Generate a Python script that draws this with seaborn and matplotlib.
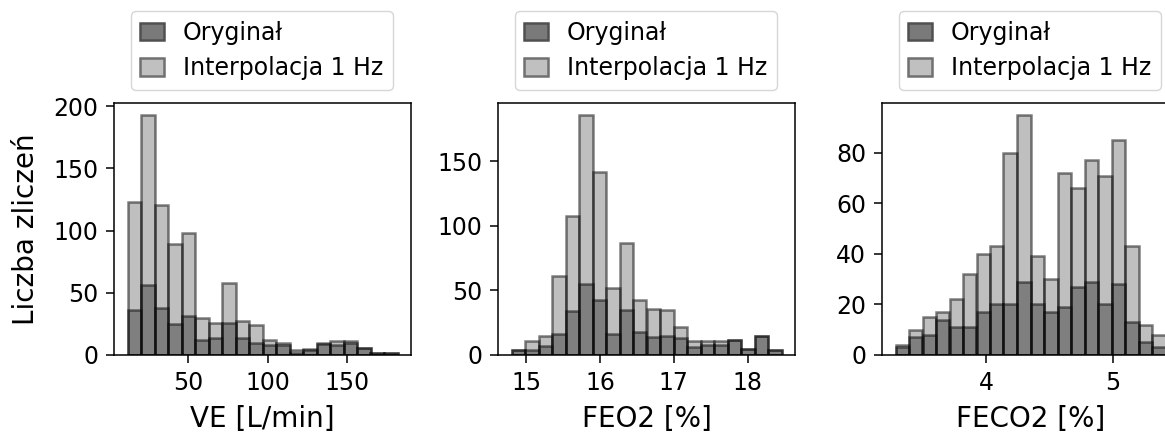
import numpy as np
import pandas as pd
import matplotlib
matplotlib.use("Agg")
import matplotlib.pyplot as plt
from matplotlib.patches import Patch
import seaborn as sns

# Series names shown in every legend
series_labels = ["Oryginał", "Interpolacja 1 Hz"]
y_label = "Liczba zliczeń"

# VE [L/min]: 20 equal bins between the two limits
ve_limits = (12.0, 181.4)
ve_orig = [36, 56, 38, 25, 31, 12, 14, 26, 14, 10, 8, 8, 2, 4, 9, 8, 10, 6, 2, 2]
ve_interp = [123, 193, 121, 89, 98, 30, 26, 58, 27, 24, 12, 10, 4, 5, 10, 11, 11, 6, 2, 2]
ve_xticks = [50, 100, 150]
ve_yticks = [0, 50, 100, 150, 200]

# FEO2 [%]
feo2_limits = (14.80, 18.46)
feo2_orig = [4, 4, 7, 16, 34, 55, 43, 16, 35, 18, 14, 15, 13, 6, 8, 8, 12, 5, 15, 4]
feo2_interp = [4, 11, 15, 61, 108, 186, 142, 52, 87, 43, 36, 35, 22, 11, 11, 11, 12, 5, 15, 4]
feo2_xticks = [15, 16, 17, 18]
feo2_yticks = [0, 50, 100, 150]

# FECO2 [%]
feco2_limits = (3.28, 5.418)
feco2_orig = [3, 7, 8, 14, 11, 11, 17, 20, 20, 29, 20, 17, 19, 27, 29, 20, 28, 13, 5, 3]
feco2_interp = [4, 10, 15, 17, 22, 32, 40, 43, 80, 95, 39, 30, 72, 66, 77, 71, 85, 43, 12, 8]
feco2_xticks = [4, 5]
feco2_yticks = [0, 20, 40, 60, 80]

panels = [
    ("VE [L/min]", ve_limits, ve_orig, ve_interp, ve_xticks, ve_yticks),
    ("FEO2 [%]", feo2_limits, feo2_orig, feo2_interp, feo2_xticks, feo2_yticks),
    ("FECO2 [%]", feco2_limits, feco2_orig, feco2_interp, feco2_xticks, feco2_yticks),
]

W, H = 1165, 432
fig = plt.figure(figsize=(W / 100, H / 100), dpi=100)

ax_w, ax_h = 297, 252
ax_lefts = [114, 498, 882]
ax_bottom = H - 355

for i, (xlabel, (lo, hi), orig, interp, xticks, yticks) in enumerate(panels):
    ax = fig.add_axes([ax_lefts[i] / W, ax_bottom / H, ax_w / W, ax_h / H])
    nbins = len(orig)
    width = (hi - lo) / nbins
    centers = lo + width * (np.arange(nbins) + 0.5)
    df = pd.DataFrame({"x": centers, "interp": interp, "orig": orig})

    sns.histplot(data=df, x="x", weights="interp", bins=nbins, binrange=(lo, hi),
                 color="#808080", alpha=0.5, edgecolor=(0, 0, 0, 0.5),
                 linewidth=1.8, ax=ax)
    sns.histplot(data=df, x="x", weights="orig", bins=nbins, binrange=(lo, hi),
                 color="#404040", alpha=0.5, edgecolor=(0, 0, 0, 0.5),
                 linewidth=1.8, ax=ax)

    ax.set_xticks(xticks)
    ax.set_yticks(yticks)
    ax.tick_params(labelsize=17, length=5.8, width=1.1, pad=5.5)
    for sp in ax.spines.values():
        sp.set_linewidth(1.1)
    ax.set_xlabel(xlabel, fontsize=20, labelpad=7.5)
    ax.set_ylabel(y_label if i == 0 else "", fontsize=20, labelpad=9.5)

    handles = [
        Patch(facecolor="#7a7a7a", edgecolor="#505050", linewidth=1.8, label=series_labels[0]),
        Patch(facecolor="#c0c0c0", edgecolor="#707070", linewidth=1.8, label=series_labels[1]),
    ]
    ax.legend(handles=handles, loc="lower left", bbox_to_anchor=(0.057, 1.052),
              borderaxespad=0, fontsize=17, handlelength=1.0, handleheight=0.78,
              handletextpad=0.8)

fig.savefig("out.png", dpi=100)
